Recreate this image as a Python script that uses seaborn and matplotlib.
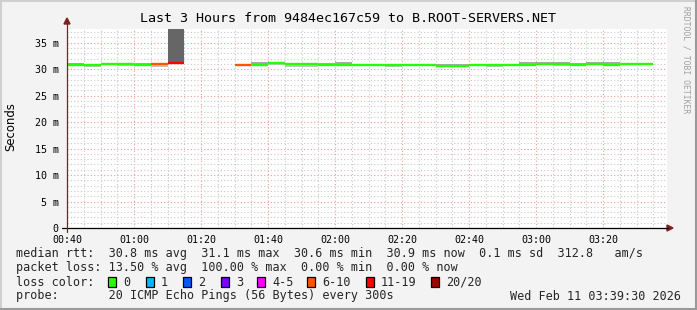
import numpy as np
import pandas as pd
import matplotlib
matplotlib.use("Agg")
import matplotlib.pyplot as plt
import seaborn as sns
from matplotlib.patches import Rectangle, Polygon
from matplotlib.lines import Line2D

# ---------------- data ----------------
start_min = 40          # 00:40
step_min = 5            # 300 s
median_ms = [30.8, 30.8, 30.9, 31.0, 30.8, 31.0, 31.2, np.nan, np.nan, np.nan,
             30.8, 30.8, 31.1, 31.0, 31.0, 30.8, 30.8, 30.8, 30.8, 30.8,
             30.8, 30.8, 30.6, 30.6, 30.8, 30.8, 30.8, 30.8, 31.0, 31.0,
             30.8, 31.0, 30.8, 31.0, 31.0]
smoke_lo = [30.7, 30.5, 30.8, 30.7, 30.7, 30.4, 31.0, np.nan, np.nan, np.nan,
            30.7, 30.7, 30.8, 30.5, 30.5, 30.7, 30.7, 30.7, 30.6, 30.5,
            30.7, 30.7, 30.4, 30.5, 30.7, 30.5, 30.7, 30.7, 30.8, 30.6,
            30.7, 30.9, 30.7, 30.9, 30.9]
smoke_hi = [31.2, 30.9, 31.0, 31.1, 31.2, 31.1, 37.6, np.nan, np.nan, np.nan,
            31.0, 31.3, 31.2, 31.1, 31.1, 31.2, 31.3, 30.9, 31.0, 30.9,
            30.9, 30.9, 31.0, 31.0, 30.9, 30.9, 30.9, 31.3, 31.4, 31.4,
            31.2, 31.4, 31.3, 31.1, 31.1]
lost_pings = [0, 0, 0, 0, 0, 7, 15, np.nan, np.nan, np.nan,
              8, 0, 0, 0, 0, 0, 0, 0, 0, 0,
              0, 0, 0, 0, 0, 0, 0, 0, 0, 0,
              0, 0, 0, 0, 0]
loss_labels = ["0", "1", "2", "3", "4-5", "6-10", "11-19", "20/20"]
loss_upper = [0, 1, 2, 3, 5, 10, 19, 20]
loss_colors = ["#26ff00", "#00b8ff", "#0059ff", "#7e00ff", "#ff00ff",
               "#ff5500", "#ff0000", "#a10000"]
x_ticks = [40, 60, 80, 100, 120, 140, 160, 180, 200]
x_tick_labels = ["00:40", "01:00", "01:20", "01:40", "02:00", "02:20", "02:40", "03:00", "03:20"]
y_ticks = [0, 5, 10, 15, 20, 25, 30, 35]
y_tick_labels = ["0", "5 m", "10 m", "15 m", "20 m", "25 m", "30 m", "35 m"]
title = "Last 3 Hours from 9484ec167c59 to B.ROOT-SERVERS.NET"
stats_rtt = "median rtt:  30.8 ms avg  31.1 ms max  30.6 ms min  30.9 ms now  0.1 ms sd  312.8   am/s"
stats_loss = "packet loss: 13.50 % avg  100.00 % max  0.00 % min  0.00 % now"
probe_txt = "probe:       20 ICMP Echo Pings (56 Bytes) every 300s"
date_txt = "Wed Feb 11 03:39:30 2026"

# ---------------- figure ----------------
W, H = 697, 310
DPI = 100
sns.set_theme(style="white")
plt.rcParams["font.family"] = ["DejaVu Sans Mono", "DejaVu Sans"]

fig = plt.figure(figsize=(W / DPI, H / DPI), dpi=DPI, facecolor="#f3f3f3")


def fx(x):
    return x / W


def fy(y):
    return 1 - y / H


ax_l, ax_r, ax_t, ax_b = 67, 667, 29, 228
ax = fig.add_axes([fx(ax_l), fy(ax_b), (ax_r - ax_l) / W, (ax_b - ax_t) / H])
ax.set_facecolor("#ffffff")
xmax = start_min + (ax_r - ax_l) / 3.35
ymax = 37.6
ax.set_xlim(start_min, xmax)
ax.set_ylim(0, ymax)

n = len(median_ms)
t0 = [start_min + i * step_min for i in range(n)]

# smoke
for i in range(n):
    if np.isnan(median_ms[i]):
        continue
    spread = smoke_hi[i] - smoke_lo[i]
    col = "#666666" if spread > 2 else "#c4c4c4"
    ax.bar(t0[i], spread, bottom=smoke_lo[i], width=step_min, align="edge",
           color=col, linewidth=0, zorder=2)
    if spread <= 2:
        # darker core near median
        ax.bar(t0[i], smoke_hi[i] - median_ms[i], bottom=median_ms[i], width=step_min,
               align="edge", color="#a8a8a8", linewidth=0, zorder=2)

# median segments coloured by loss bucket
rows = []
for i in range(n):
    if np.isnan(median_ms[i]):
        continue
    b = next(k for k, u in enumerate(loss_upper) if lost_pings[i] <= u)
    for tt in (t0[i], t0[i] + step_min):
        rows.append({"t": tt, "ms": median_ms[i], "seg": i, "bucket": loss_labels[b]})
df = pd.DataFrame(rows)
sns.lineplot(data=df, x="t", y="ms", hue="bucket", units="seg", estimator=None,
             palette=dict(zip(loss_labels, loss_colors)), legend=False,
             linewidth=1.7, ax=ax, zorder=4, solid_capstyle="butt")

# grid
ax.set_xticks(x_ticks)
ax.set_xticks(np.arange(start_min, xmax, 5), minor=True)
ax.set_yticks(y_ticks)
ax.set_yticks(np.arange(0, ymax, 1), minor=True)
ax.grid(which="minor", color="#c8c8c8", linestyle=(0, (1, 2)), linewidth=0.8, zorder=0)
ax.grid(which="major", color="#f09a9a", linestyle=(0, (1, 2)), linewidth=0.8, zorder=1)
ax.set_axisbelow(True)
ax.set_xticklabels(x_tick_labels, fontsize=7.2, color="#000000")
ax.set_yticklabels(y_tick_labels, fontsize=7.2, color="#000000")
ax.tick_params(axis="both", which="major", length=2, width=0.8, color="#f09a9a", pad=3)
ax.tick_params(axis="both", which="minor", length=2, width=0.8, color="#c8c8c8")
ax.tick_params(axis="y", pad=4)
ax.set_xlabel("")
ax.set_ylabel("")
for s in ax.spines.values():
    s.set_visible(False)

# axes lines and arrows (figure pixel coordinates)
fig.add_artist(Line2D([fx(62), fx(668)], [fy(ax_b), fy(ax_b)], color="#000000", lw=0.9))
fig.add_artist(Line2D([fx(ax_l), fx(ax_l)], [fy(ax_b + 4), fy(22)], color="#802020", lw=0.9))
fig.add_artist(Polygon([[fx(667), fy(ax_b - 3)], [fx(667), fy(ax_b + 3)], [fx(673), fy(ax_b)]],
                       closed=True, color="#802020", transform=fig.transFigure))
fig.add_artist(Polygon([[fx(ax_l - 3), fy(24)], [fx(ax_l + 3), fy(24)], [fx(ax_l), fy(18)]],
                       closed=True, color="#802020", transform=fig.transFigure))

# texts
fig.text(fx(348), fy(19), title, fontsize=9.6, ha="center", va="center", color="#000000")
fig.text(fx(11), fy(127), "Seconds", fontsize=8.4, rotation=90, ha="center", va="center",
         family="DejaVu Sans", color="#000000")
fig.text(fx(686), fy(6), "RRDTOOL / TOBI OETIKER", fontsize=5.8, rotation=270,
         ha="center", va="top", color="#a0a0a0")

fs = 8.5
fig.text(fx(16), fy(254), stats_rtt, fontsize=fs, ha="left", va="center")
fig.text(fx(16), fy(268), stats_loss, fontsize=fs, ha="left", va="center")
fig.text(fx(16), fy(282), "loss color:", fontsize=fs, ha="left", va="center")
sq_x = [108, 146, 183, 221, 257, 307, 366, 431]
for xs, lab, col in zip(sq_x, loss_labels, loss_colors):
    fig.add_artist(Rectangle((fx(xs), fy(287)), 8 / W, 10 / H, facecolor=col,
                             edgecolor="#000000", linewidth=0.9, transform=fig.transFigure))
    fig.text(fx(xs + 15), fy(282), lab, fontsize=fs, ha="left", va="center")
fig.text(fx(16), fy(296), probe_txt, fontsize=fs, ha="left", va="center")
fig.text(fx(681), fy(296), date_txt, fontsize=fs, ha="right", va="center")

# 3D-ish frame
fig.add_artist(Line2D([0, 1], [fy(0.5), fy(0.5)], color="#d0d0d0", lw=1.5))
fig.add_artist(Line2D([fx(0.5), fx(0.5)], [0, 1], color="#d0d0d0", lw=1.5))
fig.add_artist(Line2D([0, 1], [fy(309), fy(309)], color="#9a9a9a", lw=1.5))
fig.add_artist(Line2D([fx(696), fx(696)], [0, 1], color="#9a9a9a", lw=1.5))

fig.savefig("out.png", dpi=DPI, facecolor=fig.get_facecolor())
